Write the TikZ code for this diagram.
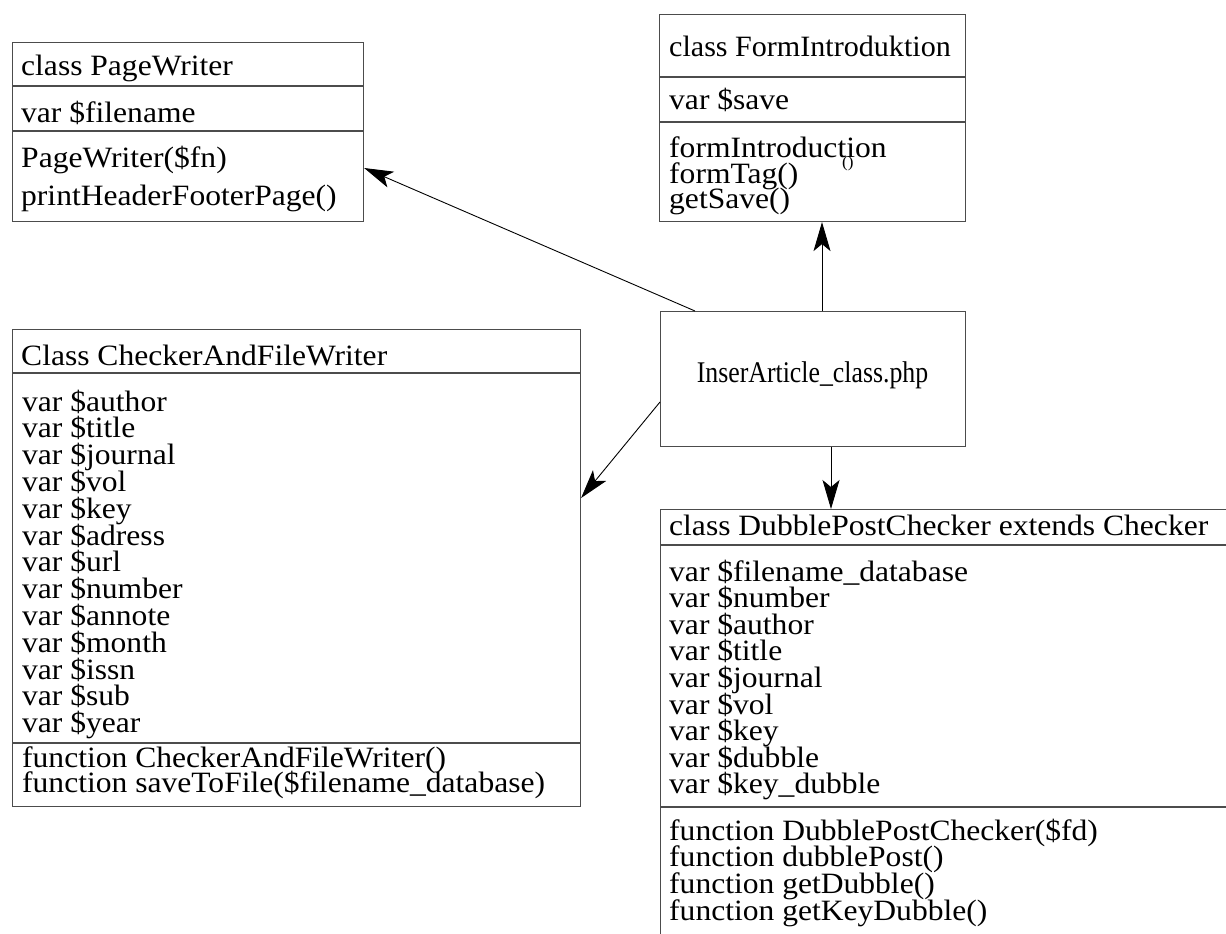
\documentclass[tikz,border=0pt]{standalone}
\usepackage{fontspec}
\setmainfont{Liberation Serif}[FakeStretch=1.07]
\newfontfamily\narrowserif{Liberation Serif}[FakeStretch=0.86]
\newfontfamily\titleserif{Liberation Serif}[FakeStretch=1.02]
\usetikzlibrary{arrows.meta,calc}
\begin{document}
\begin{tikzpicture}[x=1pt,y=-1pt,
  classbox/.style={draw=black!70, line width=1.1pt, inner sep=0pt, anchor=north west},
  rule/.style={draw=black!70, line width=1.1pt},
  txt/.style={anchor=base west, inner sep=0pt, font=\fontsize{29.5}{30}\selectfont},
  link/.style={draw=black, line width=0.9pt, -{Stealth[length=29pt,width=17pt,inset=7pt]}}]
\useasboundingbox (0,0) rectangle (1226,934);
\clip (0,0) rectangle (1226,934);

% class PageWriter
\node[classbox, minimum width=351pt, minimum height=179pt] (pw) at (12,42) {};
\draw[rule] (12,86) -- (363,86);
\draw[rule] (12,131) -- (363,131);
\node[txt] (pwt) at (21,75) {class PageWriter};
\node[txt] (pwv) at (21,122) {var \$filename};
\node[txt] (pwm1) at (21,167) {PageWriter(\$fn)};
\node[txt] (pwm2) at (21,205) {printHeaderFooterPage()};

% class FormIntroduktion
\node[classbox, minimum width=306pt, minimum height=207pt] (fi) at (659,14) {};
\draw[rule] (659,77) -- (965,77);
\draw[rule] (659,122) -- (965,122);
\node[txt, font=\titleserif\fontsize{29.5}{30}\selectfont] (fit) at (669,57) {class FormIntroduktion};
\node[txt] (fiv) at (669,110) {var \$save};
\node[txt] (fim1) at (669,157) {formIntroduction};
\node[anchor=base west, inner sep=0pt, font=\fontsize{16}{16}\selectfont] (fip) at (842,167) {()};
\node[txt] (fim2) at (669,183) {formTag()};
\node[txt] (fim3) at (669,208) {getSave()};

% main script
\node[classbox, minimum width=305pt, minimum height=135pt] (ia) at (660,311) {};
\node[anchor=base, inner sep=0pt, font=\narrowserif\fontsize{30}{30}\selectfont] (iat) at (812.5,382) {InserArticle\_class.php};

% class CheckerAndFileWriter
\node[classbox, minimum width=568pt, minimum height=477pt] (cf) at (12,329) {};
\draw[rule] (12,373) -- (580,373);
\draw[rule] (12,743) -- (580,743);
\node[txt] (cft) at (21,365) {Class CheckerAndFileWriter};
\foreach \v [count=\i from 0] in {author,title,journal,vol,key,adress,url,number,annote,month,issn,sub,year}
  \node[txt] (cfv\i) at (22,411+26.8*\i) {var \$\v};
\node[txt] (cfm1) at (22,767) {function CheckerAndFileWriter()};
\node[txt] (cfm2) at (22,792) {function saveToFile(\$filename\_database)};

% class DubblePostChecker
\node[classbox, minimum width=600pt, minimum height=450pt] (dp) at (660,509) {};
\draw[rule] (660,545) -- (1260,545);
\draw[rule] (660,807) -- (1260,807);
\node[txt] (dpt) at (669,535) {class DubblePostChecker extends Checker};
\foreach \v [count=\i from 0] in {filename\_database,number,author,title,journal,vol,key,dubble,key\_dubble}
  \node[txt] (dpv\i) at (669,581+26.6*\i) {var \$\v};
\foreach \m [count=\i from 0] in {DubblePostChecker(\$fd),dubblePost(),getDubble(),getKeyDubble()}
  \node[txt] (dpm\i) at (669,840+26.7*\i) {function \m};

% associations
\draw[link] ($(ia.north west)+(35,0)$) -- ($(pw.north east)+(0,126)$);
\draw[link] ($(ia.north west)+(162,0)$) -- ($(fi.south west)+(163,0)$);
\draw[link] ($(ia.north west)+(0,91)$) -- ($(cf.north east)+(0,169)$);
\draw[link] ($(ia.south west)+(171,0)$) -- ($(dp.north west)+(171,0)$);
\end{tikzpicture}
\end{document}
